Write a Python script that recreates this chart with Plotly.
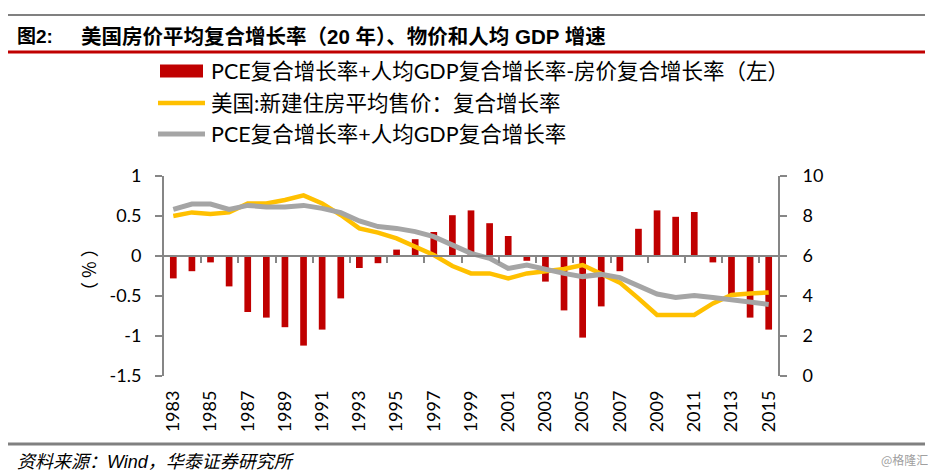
import plotly.graph_objects as go

# ---- data ----
years = list(range(1983, 2016))
bar_name = "PCE复合增长率+人均GDP复合增长率-房价复合增长率（左）"
yellow_name = "美国:新建住房平均售价：复合增长率"
gray_name = "PCE复合增长率+人均GDP复合增长率"
bar_values = [-0.28, -0.19, -0.08, -0.38, -0.70, -0.77, -0.89, -1.12, -0.92, -0.53, -0.15, -0.09,
              0.08, 0.21, 0.30, 0.51, 0.57, 0.41, 0.25,
              -0.06, -0.32, -0.68, -1.02, -0.63, -0.19,
              0.34, 0.57, 0.49, 0.55,
              -0.08, -0.51, -0.77, -0.92]
yellow_values = [8.0, 8.18, 8.1, 8.18, 8.63, 8.63, 8.8, 9.03, 8.63, 8.05, 7.38, 7.17,
                 6.88, 6.47, 6.05, 5.5, 5.13, 5.13, 4.88,
                 5.13, 5.22, 5.35, 5.55, 5.13, 4.67,
                 3.88, 3.05, 3.05, 3.05,
                 3.63, 4.05, 4.13, 4.18]
gray_values = [8.33, 8.6, 8.6, 8.33, 8.53, 8.45, 8.45, 8.53, 8.38, 8.17, 7.75, 7.47,
               7.38, 7.22, 6.97, 6.55, 6.13, 5.88, 5.38,
               5.55, 5.33, 5.13, 4.97, 5.08, 4.92,
               4.5, 4.1, 3.93, 4.02,
               3.93, 3.83, 3.67, 3.58]
label_years = years[::2]
left_ticks = [1, 0.5, 0, -0.5, -1, -1.5]
left_tick_text = ["1", "0.5", "0", "-0.5", "-1", "-1.5"]
right_ticks = [0, 2, 4, 6, 8, 10]
title_text = "美国房价平均复合增长率（20 年）、物价和人均 GDP 增速"
source_text = "资料来源：Wind，华泰证券研究所"

# ---- layout constants (page coordinates; the page body has an 8px margin) ----
OFF = 8
W, H = 936 - OFF, 473 - OFF
L, R, T, B = 164, 778, 176, 376
FONT = "Lato, 'Noto Sans CJK SC', sans-serif"
CJK = "'Noto Sans CJK SC', sans-serif"
TFONT = "'Liberation Sans', 'Noto Sans CJK SC', sans-serif"
AX = "#868686"
RED = "#C00000"
YEL = "#FFC000"
GRY = "#A5A5A5"

def px(x):
    return (x - L) / (R - L)

def py(y):
    return (B - y) / (B - T)

fig = go.Figure()
fig.add_trace(go.Bar(x=years, y=bar_values, name=bar_name, marker_color=RED,
                     marker_line_width=0, width=0.36, showlegend=False))
fig.add_trace(go.Scatter(x=years, y=yellow_values, name=yellow_name, mode="lines",
                         line=dict(color=YEL, width=4.5), yaxis="y2", xaxis="x2", showlegend=False))
fig.add_trace(go.Scatter(x=years, y=gray_values, name=gray_name, mode="lines",
                         line=dict(color=GRY, width=5), yaxis="y2", xaxis="x2", showlegend=False))

xr = [years[0] - 0.5, years[-1] + 0.5]
fig.update_layout(
    width=W, height=H,
    margin=dict(l=L - OFF, r=W - (R - OFF), t=T - OFF, b=H - (B - OFF)),
    paper_bgcolor="white", plot_bgcolor="white",
    font=dict(family=FONT, size=17, color="#000"),
    showlegend=False,
    xaxis=dict(range=xr, tickmode="array", tickvals=label_years,
               ticktext=[str(v) for v in label_years], tickangle=-90,
               showline=False, showgrid=False, zeroline=False, ticks="",
               tickfont=dict(size=18), ticklabelstandoff=10),
    xaxis2=dict(range=xr, overlaying="x", anchor="free", position=py(256),
                tickmode="array", tickvals=[y + 0.5 for y in years[1::2]],
                showticklabels=False, showline=True, linecolor=AX, linewidth=2,
                ticks="outside", ticklen=6, tickwidth=2, tickcolor=AX,
                showgrid=False, zeroline=False),
    yaxis=dict(range=[-1.5, 1], tickmode="array", tickvals=left_ticks, ticktext=left_tick_text,
               showline=True, linecolor=AX, linewidth=2, ticks="outside", ticklen=7,
               tickwidth=2, tickcolor=AX, showgrid=False, zeroline=False,
               tickfont=dict(size=18), ticklabelstandoff=10),
    yaxis2=dict(range=[0, 10], tickmode="array", tickvals=right_ticks, overlaying="y",
                side="right", anchor="x", showline=True, linecolor=AX, linewidth=2,
                ticks="outside", ticklen=7, tickwidth=2, tickcolor=AX,
                showgrid=False, zeroline=False, tickfont=dict(size=18),
                ticklabelstandoff=12),
)

shapes = []
annotations = []
# header / footer rules
for yy, col, wd in [(15, "#808080", 2), (52, RED, 3), (444, "#808080", 3)]:
    shapes.append(dict(type="line", xref="paper", yref="paper", x0=px(8), x1=px(925),
                       y0=py(yy), y1=py(yy), line=dict(color=col, width=wd)))
annotations.append(dict(text="<b>图2:</b>", xref="paper", yref="paper", x=px(15), y=py(36),
                        xanchor="left", yanchor="middle", showarrow=False,
                        font=dict(size=19, family=TFONT)))
annotations.append(dict(text="<b>" + title_text + "</b>", xref="paper", yref="paper",
                        x=px(79), y=py(36), xanchor="left", yanchor="middle", showarrow=False,
                        font=dict(size=20.5, family=TFONT)))
annotations.append(dict(text="<i>" + source_text + "</i>", xref="paper", yref="paper",
                        x=px(15), y=py(462), xanchor="left", yanchor="middle", showarrow=False,
                        font=dict(size=18, family=TFONT)))
annotations.append(dict(text="@格隆汇", xref="paper", yref="paper", x=px(930), y=py(459),
                        xanchor="right", yanchor="middle", showarrow=False,
                        font=dict(size=12, color="#A0A0A0", family=CJK)))
# y-axis title
annotations.append(dict(text="（ % ）", xref="paper", yref="paper", x=px(88), y=py(270),
                        xanchor="center", yanchor="middle", showarrow=False, textangle=-90,
                        font=dict(size=18, family=CJK)))
# custom legend
rows = [71, 103, 134]
shapes.append(dict(type="rect", xref="paper", yref="paper", x0=px(160), x1=px(203),
                   y0=py(rows[0] - 6.5), y1=py(rows[0] + 6.5), fillcolor=RED, line_width=0))
shapes.append(dict(type="line", xref="paper", yref="paper", x0=px(158), x1=px(205),
                   y0=py(rows[1]), y1=py(rows[1]), line=dict(color=YEL, width=4.5)))
shapes.append(dict(type="line", xref="paper", yref="paper", x0=px(158), x1=px(205),
                   y0=py(rows[2]), y1=py(rows[2]), line=dict(color=GRY, width=5)))
for name, r in zip([bar_name, yellow_name, gray_name], rows):
    annotations.append(dict(text=name, xref="paper", yref="paper", x=px(209), y=py(r),
                            xanchor="left", yanchor="middle", showarrow=False,
                            font=dict(size=21.5)))

fig.update_layout(shapes=shapes, annotations=annotations)
fig.write_html("out.html")
